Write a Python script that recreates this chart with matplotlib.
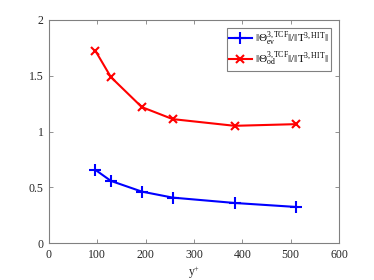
import matplotlib
matplotlib.use("Agg")
import matplotlib.pyplot as plt

yplus = [96, 128, 192, 256, 384, 512]
ev_ratio = [0.656, 0.557, 0.461, 0.407, 0.359, 0.323]
od_ratio = [1.724, 1.488, 1.219, 1.111, 1.051, 1.066]
xticks = [0, 100, 200, 300, 400, 500, 600]
yticks = [0, 0.5, 1, 1.5, 2]
ytick_labels = ["0", "0.5", "1", "1.5", "2"]

plt.rcParams['font.family'] = ['Liberation Serif', 'DejaVu Serif']
plt.rcParams['mathtext.fontset'] = 'custom'
plt.rcParams['mathtext.rm'] = 'Liberation Serif'
plt.rcParams['mathtext.it'] = 'Liberation Serif:italic'

fig = plt.figure(figsize=(3.74, 2.8), dpi=100)
ax = fig.add_axes([49/374, 1-243/280, (339-49)/374, (243-20)/280])

ax.plot(yplus, ev_ratio, color='#0000ff', marker='+', markersize=8, markeredgewidth=1.5, linewidth=1.5,
        label=r'$\|\Theta^{3,\mathrm{TCF}}_{\mathrm{ev}}\|/\|\mathrm{T}^{3,\mathrm{HIT}}\|$')
ax.plot(yplus, od_ratio, color='#ff0000', marker='x', markersize=6, markeredgewidth=1.5, linewidth=1.5,
        label=r'$\|\Theta^{3,\mathrm{TCF}}_{\mathrm{od}}\|/\|\mathrm{T}^{3,\mathrm{HIT}}\|$')

ax.set_xlim(0, 600)
ax.set_ylim(0, 2)
ax.set_xticks(xticks)
ax.set_yticks(yticks)
ax.set_yticklabels(ytick_labels)
ax.tick_params(direction='in', top=True, right=True, labelsize=8.5, length=3, width=0.6,
               color='#808080', labelcolor='#262626', pad=4)
for s in ax.spines.values():
    s.set_color('#808080')
    s.set_linewidth(0.8)
ax.set_xlabel(r'y$^{+}$', fontsize=8.5, labelpad=2.5, color='#262626')

leg = ax.legend(loc='upper right', fontsize=8, fancybox=False, framealpha=1, edgecolor='#808080',
                handlelength=2.0, borderaxespad=0.7, handletextpad=0.3, borderpad=0.25, labelspacing=0.15)
leg.get_frame().set_linewidth(0.8)

fig.savefig('out.png', dpi=100)
